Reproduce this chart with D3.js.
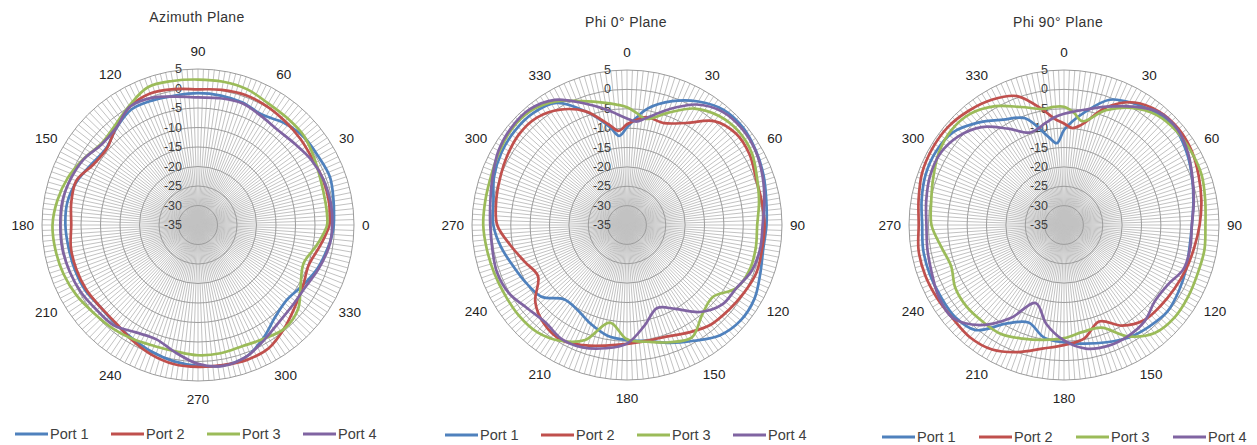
<!DOCTYPE html>
<html><head><meta charset="utf-8">
<script src="https://cdn.jsdelivr.net/npm/d3@7"></script>
<style>body{margin:0;background:#fff;} svg{display:block;}</style>
</head><body>
<svg id="chart" width="1257" height="445"></svg>
<script>
// ---------- data ----------
const angles = [0,5,10,20,30,40,50,60,70,80,90,100,110,120,130,140,150,160,170,180,190,200,210,220,230,240,250,260,270,280,290,300,310,320,330,340,350,355];
const seriesNames = ["Port 1","Port 2","Port 3","Port 4"];
const valueTicks = [5,0,-5,-10,-15,-20,-25,-30,-35];
const angleLabels = [0,30,60,90,120,150,180,210,240,270,300,330];
const planeTitles = ["Azimuth Plane","Phi 0\u00b0 Plane","Phi 90\u00b0 Plane"];

// Azimuth plane (dB)
const azPort1 = [-0.2,0.0,0.3,1.0,0.5,0.3,-0.8,-2.3,-1.6,-1.3,-1.2,-1.3,-1.0,-0.8,-2.5,-4.3,-3.6,-2.0,-1.0,-1.0,-1.3,-1.4,-1.6,-2.3,-2.0,-1.4,-0.4,0.5,1.1,1.6,1.0,-1.5,-4.2,-5.2,-4.0,-2.4,-1.2,-0.6];
const azPort2 = [-1.3,-1.1,-0.9,-0.9,-1.1,-0.7,-0.3,0.2,0.5,0.2,-0.2,0.4,0.9,0.0,-2.3,-4.5,-4.0,-1.8,-2.0,-2.5,-1.9,-1.8,-1.9,-2.3,-2.2,-1.0,0.3,1.2,1.4,1.5,1.8,1.4,-0.5,-2.5,-3.9,-4.8,-3.3,-2.3];
const azPort3 = [-1.9,-1.8,-1.8,-1.5,-0.6,0.5,0.7,1.0,2.0,2.3,2.3,2.5,2.6,0.3,-1.8,-2.6,-1.1,0.5,1.6,2.3,2.1,1.7,1.0,0.0,-0.6,-1.3,-2.0,-2.1,-1.6,-1.6,-1.9,-1.3,-0.4,-1.5,-4.6,-6.2,-4.2,-3.0];
const azPort4 = [-0.6,-0.5,-0.5,-0.8,-1.5,-2.6,-3.2,-2.7,-1.8,-2.0,-2.3,-1.6,-0.3,0.0,-2.4,-2.8,-1.2,-0.3,0.3,0.3,0.3,0.0,-0.4,-1.1,-1.4,-3.2,-3.8,-1.8,0.6,1.7,1.0,-1.0,-2.6,-3.2,-3.2,-2.1,-1.0,-0.7];

// Phi 0 plane (dB)
const p0Port1 = [-9.8,-7.2,-4.5,-1.0,1.8,3.8,4.1,3.4,2.5,1.5,1.0,0.7,1.6,3.0,3.3,2.2,-0.5,-2.6,-4.6,-5.3,-6.0,-7.8,-9.6,-9.9,-6.2,-5.0,-3.8,-2.0,-0.5,0.0,1.5,2.4,2.8,2.7,1.4,-3.8,-9.3,-11.9];
const p0Port2 = [-9.0,-7.8,-6.7,-7.0,-4.6,0.0,1.7,1.5,0.4,0.3,0.5,0.4,0.6,-0.1,-0.8,-1.4,-3.0,-4.4,-4.7,-4.3,-3.4,-2.0,-0.8,-1.7,-4.1,-8.5,-7.0,-4.5,-1.5,-0.7,-0.1,0.7,1.4,1.2,-0.6,-3.8,-8.8,-10.6];
const p0Port3 = [-4.6,-6.0,-7.2,-4.2,-0.3,1.8,2.6,2.2,0.7,-0.4,-1.4,-1.25,-1.3,-2.4,-6.1,-4.8,-1.5,-2.8,-4.4,-5.5,-9.4,-3.4,-0.5,1.1,1.4,1.3,1.45,1.7,2.1,2.1,2.3,3.0,3.7,3.5,1.8,-1.0,-3.0,-3.8];
const p0Port4 = [-7.5,-8.2,-7.0,-3.2,0.9,3.2,3.7,3.3,2.2,1.0,0.0,-0.1,-0.7,-2.4,-3.0,-5.7,-10.0,-12.2,-8.7,-4.4,-2.7,-1.4,-1.1,-2.2,-1.5,0.2,0.7,0.3,0.3,0.8,1.9,3.3,4.0,4.0,2.3,-1.5,-4.8,-6.3];

// Phi 90 plane (dB)
const p90Port1 = [-10.5,-8.0,-5.6,-0.6,1.2,2.5,2.9,1.7,0.2,-1.1,-2.0,-2.1,-1.5,-0.8,-0.2,-0.8,-1.5,-2.8,-3.9,-4.7,-5.5,-8.2,-5.7,0.4,1.8,1.8,1.9,1.9,1.6,2.3,3.0,3.1,2.3,-0.5,-3.6,-5.7,-11.9,-13.8];
const p90Port2 = [-8.8,-9.9,-8.7,-2.6,1.5,3.2,3.6,3.1,2.0,1.0,0.0,-0.9,-1.5,-2.1,-2.5,-2.9,-5.0,-8.5,-5.2,-4.0,-2.6,-0.1,2.1,2.8,2.5,2.8,3.1,3.1,2.5,3.1,4.0,4.3,4.2,3.4,2.3,0.4,-5.0,-7.5];
const p90Port3 = [-4.5,-5.9,-7.8,-3.5,-0.1,2.1,2.8,2.9,2.8,2.0,1.5,1.8,1.7,2.0,2.2,1.4,-1.8,-6.8,-7.0,-5.8,-4.9,-3.8,-2.5,-2.4,-2.2,-2.6,-4.0,-2.8,-0.8,-0.2,0.9,2.3,3.0,2.5,0.4,-2.6,-4.6,-4.4];
const p90Port4 = [-6.3,-5.6,-4.8,-2.5,0.3,3.0,3.3,2.0,0.3,-1.0,-2.0,-1.9,-2.1,-4.1,-4.4,-2.6,-1.9,-1.8,-2.6,-5.2,-9.0,-13.6,-7.2,-1.3,2.4,2.3,1.3,0.8,0.5,1.1,1.8,1.9,0.6,-2.0,-6.3,-9.6,-8.2,-7.1];

// ---------- layout ----------
const colors = ["#4F81BD","#C0504D","#9BBB59","#8064A2"];
const charts = [
  {title: planeTitles[0], cx:198, cy:225, R:156, titleX:197, titleY:17, mode:"ccw", series:[azPort1,azPort2,azPort3,azPort4], lx:15, ly:434, lstep:96},
  {title: planeTitles[1], cx:627, cy:225, R:155, titleX:626, titleY:22, mode:"cw", series:[p0Port1,p0Port2,p0Port3,p0Port4], lx:445, ly:435, lstep:96},
  {title: planeTitles[2], cx:1064, cy:225, R:155, titleX:1058, titleY:22, mode:"cw", series:[p90Port1,p90Port2,p90Port3,p90Port4], lx:882, ly:437, lstep:97}
];

const svg = d3.select("#chart");
const font = "'Liberation Sans', Arial, sans-serif";

charts.forEach(c => {
  const g = svg.append("g");
  const r = d3.scaleLinear().domain([-35, 5]).range([0, c.R]);
  const dir = deg => {
    const a = deg * Math.PI / 180;
    return c.mode === "ccw" ? [Math.cos(a), -Math.sin(a)] : [Math.sin(a), -Math.cos(a)];
  };
  const pt = (deg, rad) => { const u = dir(deg); return [c.cx + rad * u[0], c.cy + rad * u[1]]; };

  // spokes
  const spokes = d3.range(0, 360, 2);
  g.append("g").selectAll("line").data(spokes).join("line")
    .attr("x1", c.cx).attr("y1", c.cy)
    .attr("x2", d => pt(d, c.R)[0]).attr("y2", d => pt(d, c.R)[1])
    .attr("stroke", "#c2c2c2").attr("stroke-width", 1);

  // rings
  g.append("g").selectAll("circle").data(valueTicks.filter(v => v > -35)).join("circle")
    .attr("cx", c.cx).attr("cy", c.cy).attr("r", d => r(d))
    .attr("fill", "none").attr("stroke", "#9c9c9c").attr("stroke-width", 1);

  // value labels
  g.append("g").selectAll("text").data(valueTicks).join("text")
    .attr("x", c.cx - 16).attr("y", d => c.cy - r(d))
    .attr("text-anchor", "end").attr("dominant-baseline", "central")
    .attr("font-family", font).attr("font-size", 12.5).attr("fill", "#404040")
    .text(d => d);

  // series
  const line = d3.line()
    .x(d => pt(d[0], r(d[1]))[0])
    .y(d => pt(d[0], r(d[1]))[1])
    .curve(d3.curveCatmullRomClosed.alpha(0.5));
  c.series.forEach((vals, i) => {
    g.append("path")
      .datum(angles.map((a, k) => [a, vals[k]]))
      .attr("d", line)
      .attr("fill", "none").attr("stroke", colors[i])
      .attr("stroke-width", 2.7).attr("stroke-linejoin", "round");
  });

  // angle labels
  angleLabels.forEach(a => {
    const u = dir(a);
    const t = g.append("text")
      .attr("font-family", font).attr("font-size", 13.5).attr("fill", "#222")
      .attr("text-anchor", "middle").attr("dominant-baseline", "central")
      .text(a);
    const w = t.node().getComputedTextLength();
    t.attr("x", c.cx + (c.R + 8) * u[0] + (w / 2) * u[0])
     .attr("y", c.cy + (c.R + 8) * u[1] + 10 * u[1]);
  });

  // title
  g.append("text").attr("x", c.titleX).attr("y", c.titleY)
    .attr("text-anchor", "middle").attr("dominant-baseline", "central")
    .attr("font-family", font).attr("font-size", 14).attr("letter-spacing", 0.4)
    .attr("fill", "#333").text(c.title);

  // legend
  seriesNames.forEach((n, i) => {
    const x0 = c.lx + i * c.lstep;
    g.append("line").attr("x1", x0).attr("x2", x0 + 33)
      .attr("y1", c.ly).attr("y2", c.ly)
      .attr("stroke", colors[i]).attr("stroke-width", 3);
    g.append("text").attr("x", x0 + 35).attr("y", c.ly)
      .attr("dominant-baseline", "central")
      .attr("font-family", font).attr("font-size", 14.5).attr("fill", "#404040")
      .text(n);
  });
});
</script>
</body></html>
